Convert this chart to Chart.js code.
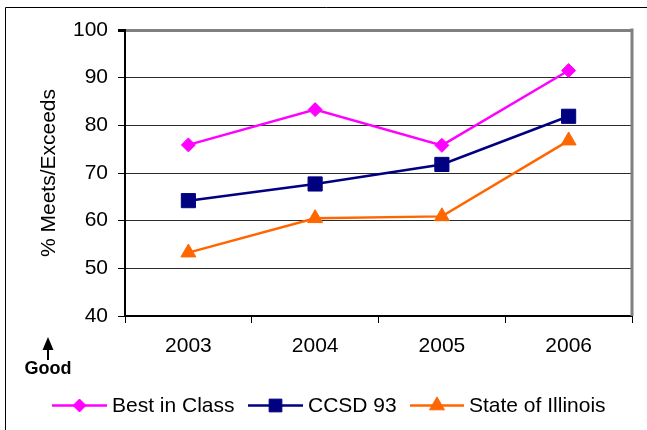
<!DOCTYPE html>
<html>
<head>
<meta charset="utf-8">
<title>% Meets/Exceeds</title>
<script src="https://cdn.jsdelivr.net/npm/chart.js@4/dist/chart.umd.min.js"></script>
<style>
  html, body { margin: 0; padding: 0; background: #fff; }
  #wrap { position: relative; width: 647px; height: 430px; }
</style>
</head>
<body>
<div id="wrap"><canvas id="c" width="647" height="430"></canvas></div>
<script>
// Years and series
const years = ['2003', '2004', '2005', '2006'];
const bestInClass = [75.9, 83.3, 75.8, 91.5];
const ccsd93 = [64.2, 67.7, 71.8, 81.9];
const stateOfIllinois = [53.3, 60.5, 60.9, 76.8];
const seriesNames = ['Best in Class', 'CCSD 93', 'State of Illinois'];
const yTicks = [40, 50, 60, 70, 80, 90, 100];

const FONT = 'Arial, "Liberation Sans", sans-serif';
const FS = 21;
Chart.defaults.font.family = FONT;
Chart.defaults.color = '#000';

const MAGENTA = '#ff00ff', NAVY = '#000080', ORANGE = '#ff6600';

function marker(ctx, style, x, y, r, color) {
  ctx.save();
  ctx.fillStyle = color;
  ctx.strokeStyle = color;
  ctx.lineWidth = 1;
  Chart.helpers.drawPoint(ctx, { pointStyle: style, radius: r, rotation: 0, borderWidth: 1 }, x, y);
  ctx.restore();
}

// Frame, right plot border, "Good" note and line+marker legend
const decor = {
  id: 'decor',
  beforeDraw(chart) {
    const ctx = chart.ctx;
    ctx.save();
    ctx.strokeStyle = '#000';
    ctx.lineWidth = 1;
    ctx.beginPath();
    ctx.moveTo(5.5, 430);
    ctx.lineTo(5.5, 7.5);
    ctx.lineTo(647, 7.5);
    ctx.stroke();
    ctx.restore();
  },
  beforeDatasetsDraw(chart) {
    const ctx = chart.ctx, a = chart.chartArea;
    ctx.save();
    ctx.strokeStyle = '#808080';
    ctx.lineWidth = 3;
    ctx.beginPath();
    ctx.moveTo(a.right, a.top - 1.5);
    ctx.lineTo(a.right, a.bottom);
    ctx.stroke();
    ctx.restore();
  },
  afterDraw(chart) {
    const ctx = chart.ctx;
    ctx.save();
    // "Good" with upward arrow
    ctx.fillStyle = '#000';
    ctx.strokeStyle = '#000';
    ctx.lineWidth = 2;
    ctx.beginPath();
    ctx.moveTo(48, 360);
    ctx.lineTo(48, 346);
    ctx.stroke();
    ctx.beginPath();
    ctx.moveTo(48, 337);
    ctx.lineTo(53.5, 350);
    ctx.lineTo(42.5, 350);
    ctx.closePath();
    ctx.fill();
    ctx.font = 'bold 18px ' + FONT;
    ctx.textAlign = 'center';
    ctx.textBaseline = 'middle';
    ctx.fillText('Good', 48, 369);

    // legend
    const items = [
      { x0: 52, x1: 107, tx: 112 },
      { x0: 248, x1: 303, tx: 308 },
      { x0: 410, x1: 464, tx: 469 }
    ];
    const ly = 405.5;
    chart.data.datasets.forEach((ds, i) => {
      const it = items[i];
      ctx.strokeStyle = ds.borderColor;
      ctx.lineWidth = 2.5;
      ctx.beginPath();
      ctx.moveTo(it.x0, ly);
      ctx.lineTo(it.x1, ly);
      ctx.stroke();
      marker(ctx, ds.pointStyle, (it.x0 + it.x1) / 2, ly, ds.legendRadius, ds.borderColor);
      ctx.fillStyle = '#000';
      ctx.font = FS + 'px ' + FONT;
      ctx.textAlign = 'left';
      ctx.textBaseline = 'middle';
      ctx.fillText(ds.label, it.tx, ly + 1);
    });
    ctx.restore();
  }
};

new Chart(document.getElementById('c'), {
  type: 'line',
  data: {
    labels: years,
    datasets: [
      { label: seriesNames[0], data: bestInClass, borderColor: MAGENTA, backgroundColor: MAGENTA,
        pointStyle: 'rectRot', pointRadius: 7, legendRadius: 6.5 },
      { label: seriesNames[1], data: ccsd93, borderColor: NAVY, backgroundColor: NAVY,
        pointStyle: 'rect', pointRadius: 10, legendRadius: 9 },
      { label: seriesNames[2], data: stateOfIllinois, borderColor: ORANGE, backgroundColor: ORANGE,
        pointStyle: 'triangle', pointRadius: 8.6, legendRadius: 8.6 }
    ].map(d => Object.assign(d, {
      borderWidth: 2.5, tension: 0, pointBorderWidth: 1, pointBorderColor: d.borderColor,
      pointBackgroundColor: d.borderColor, fill: false
    }))
  },
  options: {
    responsive: false,
    animation: false,
    layout: { padding: { left: 0, right: 15, top: 30, bottom: 0 } },
    plugins: { legend: { display: false }, tooltip: { enabled: false } },
    scales: {
      x: {
        offset: true,
        grid: { offset: true, drawOnChartArea: false, drawTicks: true, tickLength: 7, color: '#000', lineWidth: 1 },
        border: { display: true, color: '#000', width: 2 },
        ticks: { font: { size: FS }, padding: 11, color: '#000', maxRotation: 0 },
        afterFit(s) { s.height = 114; }
      },
      y: {
        min: 40, max: 100,
        afterBuildTicks(s) { s.ticks = yTicks.map(v => ({ value: v })); },
        grid: {
          drawTicks: true, tickLength: 7, tickColor: '#000',
          color: c => c.tick.value === 100 ? '#808080' : (c.tick.value === 40 ? 'rgba(0,0,0,0)' : '#2a2a2a'),
          lineWidth: c => c.tick.value === 100 ? 3 : 1
        },
        border: { display: true, color: '#000', width: 2 },
        ticks: { font: { size: FS }, padding: 10, color: '#000' },
        title: { display: true, text: '% Meets/Exceeds', font: { size: FS }, color: '#000', padding: { top: 37, bottom: 0 } },
        afterFit(s) { s.width = 125; }
      }
    }
  },
  plugins: [decor]
});
</script>
</body>
</html>
